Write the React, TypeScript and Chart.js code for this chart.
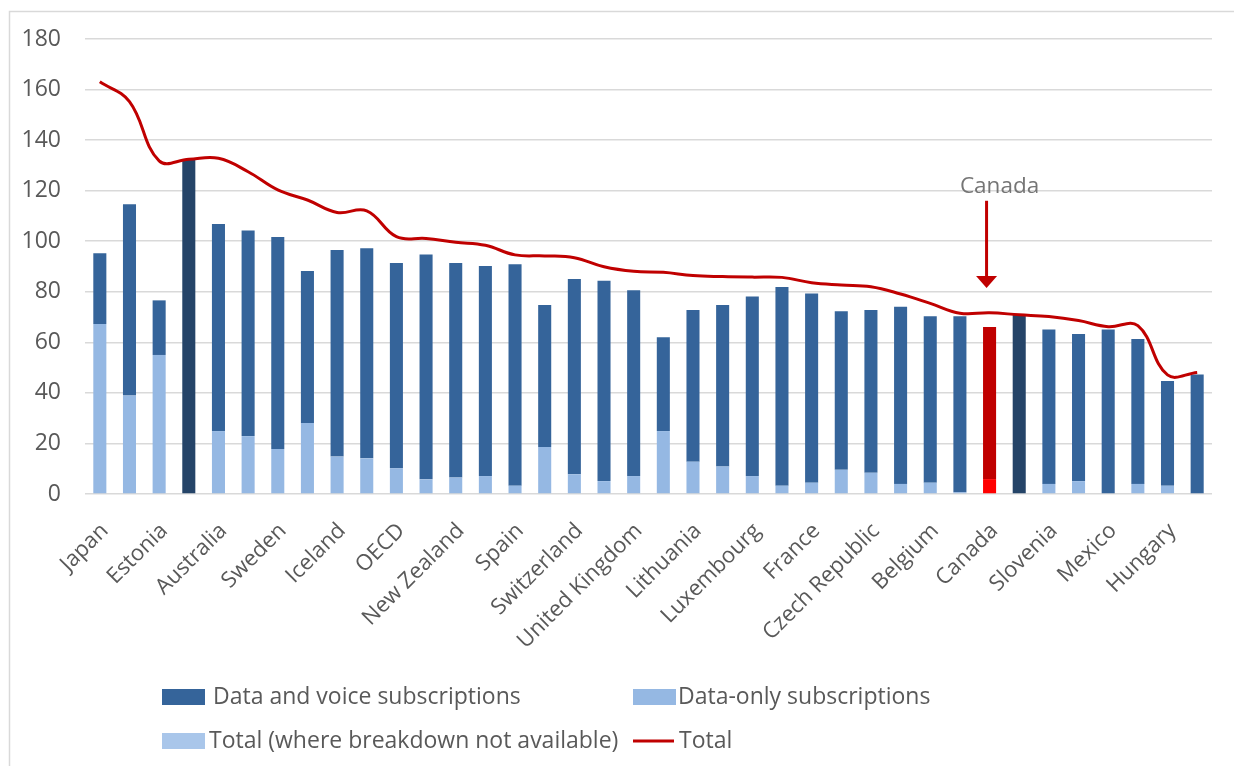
import React, { useEffect, useRef } from "react";
import { Chart, registerables } from "chart.js";

Chart.register(...registerables);

const categories = [
  "Japan", "Finland", "Estonia", "United States", "Australia", "Denmark", "Sweden", "Latvia",
  "Iceland", "Korea", "OECD", "Ireland", "New Zealand", "Norway", "Spain", "Austria",
  "Switzerland", "Netherlands", "United Kingdom", "Poland", "Lithuania", "Italy", "Luxembourg",
  "Israel", "France", "Germany", "Czech Republic", "Slovak Republic", "Belgium", "Chile",
  "Canada", "Colombia", "Slovenia", "Greece", "Mexico", "Turkey", "Hungary", "Portugal",
];

const dataOnly = [
  67.3, 39.0, 55.0, null, 24.9, 22.9, 17.8, 28.1, 14.8, 14.1, 10.2, 5.8, 6.5, 7.1, 3.3, 18.6,
  7.8, 5.1, 7.1, 24.9, 12.8, 10.9, 7.1, 3.3, 4.5, 9.6, 8.4, 4.0, 4.5, 0.7, 5.9, null, 4.0, 5.1,
  0.3, 4.0, 3.3, 0,
];

const dataAndVoice = [
  27.9, 75.6, 21.6, null, 81.9, 81.3, 83.9, 60.1, 81.7, 83.1, 81.2, 88.9, 84.9, 83.1, 87.6, 56.2,
  77.3, 79.3, 73.5, 37.1, 60.0, 63.9, 71.0, 78.6, 74.8, 62.7, 64.4, 70.1, 65.8, 69.6, 60.2, null,
  61.1, 58.2, 64.8, 57.3, 41.4, 47.3,
];

const totalNoBreakdown = [
  null, null, null, 132.4, null, null, null, null, null, null, null, null, null, null, null, null,
  null, null, null, null, null, null, null, null, null, null, null, null, null, null, null, 70.9,
  null, null, null, null, null, null,
];

const totalLine = [
  163.1, 155.2, 131.8, 132.4, 132.8, 127.5, 120.3, 116.3, 111.4, 112.0, 101.8, 101.1, 99.6, 98.4,
  94.6, 94.2, 93.5, 89.9, 88.1, 87.7, 86.4, 86.0, 85.8, 85.7, 83.6, 82.7, 82.0, 79.1, 75.4, 71.5,
  71.7, 70.9, 70.2, 68.6, 66.2, 66.6, 47.1, 48.1,
];

const yTicks = [0, 20, 40, 60, 80, 100, 120, 140, 160, 180];

const highlightLabel = "Canada";
const noteTextValue = 121.5;
const noteArrowStart = 116;
const noteArrowTip = 81.5;

const FONT = "'Open Sans', Lato, sans-serif";
const TEXT = "#595959";
const C_VOICE = "#35649A";
const C_DATA = "#95B8E3";
const C_NA = "#254468";
const C_NA_LEGEND = "#A9C6EA";
const C_RED = "#C00000";
const C_RED_LIGHT = "#FF0000";

export default function App() {
  const ref = useRef<HTMLCanvasElement | null>(null);

  useEffect(() => {
    const canvas = ref.current;
    if (!canvas) return;
    const hi = categories.indexOf(highlightLabel);

    const framePlugin = {
      id: "frame",
      beforeDraw(chart: any) {
        const ctx = chart.ctx;
        ctx.save();
        ctx.strokeStyle = "#D9D9D9";
        ctx.lineWidth = 1.5;
        ctx.beginPath();
        ctx.moveTo(1.5, chart.height);
        ctx.lineTo(1.5, 3.5);
        ctx.lineTo(chart.width, 3.5);
        ctx.stroke();
        ctx.restore();
      },
    };

    const notePlugin = {
      id: "note",
      afterDatasetsDraw(chart: any) {
        const ctx = chart.ctx;
        const xs = chart.scales.x;
        const ys = chart.scales.y;
        const x = xs.getPixelForValue(hi);
        ctx.save();
        ctx.fillStyle = "#757575";
        ctx.font = `22.5px ${FONT}`;
        ctx.textAlign = "center";
        ctx.textBaseline = "middle";
        ctx.fillText(highlightLabel, x + 10, ys.getPixelForValue(noteTextValue));
        const ax = x - 3;
        const y0 = ys.getPixelForValue(noteArrowStart);
        const y1 = ys.getPixelForValue(noteArrowTip);
        ctx.strokeStyle = C_RED;
        ctx.lineWidth = 3;
        ctx.beginPath();
        ctx.moveTo(ax, y0);
        ctx.lineTo(ax, y1 - 10);
        ctx.stroke();
        ctx.fillStyle = C_RED;
        ctx.beginPath();
        ctx.moveTo(ax - 10.5, y1 - 12);
        ctx.lineTo(ax + 10.5, y1 - 12);
        ctx.lineTo(ax, y1);
        ctx.closePath();
        ctx.fill();
        ctx.restore();
      },
    };

    const legendPlugin = {
      id: "customLegend",
      afterDraw(chart: any) {
        const ctx = chart.ctx;
        const left = chart.chartArea.left;
        const col1 = left + 77;
        const col2 = left + 548;
        const row1 = chart.height - 69;
        const row2 = chart.height - 25;
        ctx.save();
        ctx.font = `23px ${FONT}`;
        ctx.textBaseline = "middle";
        ctx.textAlign = "left";
        const box = (x: number, y: number, c: string) => {
          ctx.fillStyle = c;
          ctx.fillRect(x, y - 8, 43, 16);
        };
        box(col1, row1, C_VOICE);
        box(col2, row1, C_DATA);
        box(col1, row2, C_NA_LEGEND);
        ctx.strokeStyle = C_RED;
        ctx.lineWidth = 3;
        ctx.beginPath();
        ctx.moveTo(col2, row2);
        ctx.lineTo(col2 + 41, row2);
        ctx.stroke();
        ctx.fillStyle = TEXT;
        ctx.fillText(chart.data.datasets[1].label, col1 + 51, row1);
        ctx.fillText(chart.data.datasets[0].label, col2 + 45, row1);
        ctx.fillText(chart.data.datasets[2].label, col1 + 47, row2);
        ctx.fillText(chart.data.datasets[3].label, col2 + 46, row2);
        ctx.restore();
      },
    };

    const barPct = 0.44;

    const chart = new Chart(canvas, {
      type: "bar",
      data: {
        labels: categories,
        datasets: [
          {
            type: "bar",
            label: "Data-only subscriptions",
            data: dataOnly as any,
            backgroundColor: (c: any) => (c.dataIndex === hi ? C_RED_LIGHT : C_DATA),
            categoryPercentage: 1,
            barPercentage: barPct,
            order: 1,
          },
          {
            type: "bar",
            label: "Data and voice subscriptions",
            data: dataAndVoice as any,
            backgroundColor: (c: any) => (c.dataIndex === hi ? C_RED : C_VOICE),
            categoryPercentage: 1,
            barPercentage: barPct,
            order: 1,
          },
          {
            type: "bar",
            label: "Total (where breakdown not available)",
            data: totalNoBreakdown as any,
            backgroundColor: C_NA,
            categoryPercentage: 1,
            barPercentage: barPct,
            order: 1,
          },
          {
            type: "line",
            label: "Total",
            data: totalLine,
            borderColor: C_RED,
            borderWidth: 3,
            pointRadius: 0,
            tension: 0.4,
            fill: false,
            order: 0,
          } as any,
        ],
      },
      options: {
        animation: false,
        responsive: true,
        maintainAspectRatio: false,
        layout: { padding: { left: 0, right: 30, top: 31, bottom: 87 } },
        plugins: {
          legend: { display: false },
          tooltip: { enabled: false },
        },
        scales: {
          x: {
            stacked: true,
            grid: { display: false, drawTicks: false },
            border: { display: false },
            ticks: {
              autoSkip: false,
              minRotation: 45,
              maxRotation: 45,
              padding: 24,
              labelOffset: 5,
              color: TEXT,
              font: { family: FONT, size: 22 },
              callback: (_v: any, i: number) => (i % 2 === 0 ? categories[i] : ""),
            },
            afterFit: (s: any) => {
              s.height = 185;
            },
          },
          y: {
            stacked: true,
            min: yTicks[0],
            max: yTicks[yTicks.length - 1],
            grid: { color: "#D9D9D9", lineWidth: 1.5, drawTicks: false },
            border: { display: false },
            afterBuildTicks: (s: any) => {
              s.ticks = yTicks.map((v) => ({ value: v }));
            },
            ticks: {
              padding: 24,
              color: TEXT,
              font: { family: FONT, size: 23 },
            },
            afterFit: (s: any) => {
              s.width = 77;
              s.paddingTop = 0;
              s.paddingBottom = 0;
            },
          },
        },
      },
      plugins: [framePlugin, notePlugin, legendPlugin],
    } as any);

    return () => chart.destroy();
  }, []);

  return (
    <div style={{ width: 1234, height: 758, position: "relative" }}>
      <canvas ref={ref} />
    </div>
  );
}
